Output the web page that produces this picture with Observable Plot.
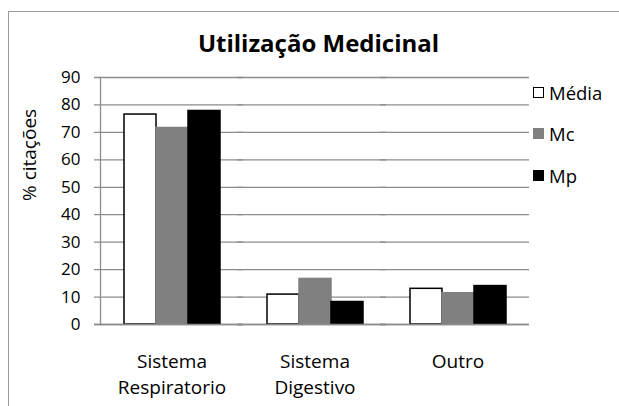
<!DOCTYPE html>
<html>
<head>
<meta charset="utf-8">
<script src="https://cdn.jsdelivr.net/npm/d3@7"></script>
<script src="https://cdn.jsdelivr.net/npm/@observablehq/plot@0.6"></script>
<style>
  html, body { margin: 0; padding: 0; background: #fff; }
  #wrap { position: relative; width: 619px; height: 406px; overflow: hidden; font-family: "Open Sans", sans-serif; }
  #border { position: absolute; left: 8px; top: 11px; right: -5px; bottom: -5px; border-top: 1.5px solid #9a9a9a; border-left: 1.5px solid #9a9a9a; }
  #title { position: absolute; left: 0; width: 637px; top: 26px; text-align: center; font-size: 24px; font-weight: bold; color: #000; z-index: 2; }
  #legend { position: absolute; left: 533px; top: 80px; font-size: 18.5px; color: #000; z-index: 2; }
  .item { position: absolute; left: 0; height: 24px; white-space: nowrap; display: flex; align-items: center; }
  .sw { display: inline-block; width: 11px; height: 11px; margin-right: 5px; box-sizing: border-box; }
  svg { position: absolute; left: 0; top: 0; }
</style>
</head>
<body>
<div id="wrap">
  <div id="border"></div>
  <div id="title">Utilização Medicinal</div>
  <div id="legend"></div>
</div>
<script>
const categories = ["Sistema\nRespiratorio", "Sistema\nDigestivo", "Outro"];
const series = ["Média", "Mc", "Mp"];
const media = [76.5, 10.9, 13.0];
const mc = [71.6, 16.6, 11.4];
const mp = [77.8, 8.2, 14.0];
const yTicks = [0, 10, 20, 30, 40, 50, 60, 70, 80, 90];
const yLabel = "% citações";
const fills = ["#ffffff", "#808080", "#000000"];
const strokes = ["#000000", "#808080", "#000000"];

const values = [media, mc, mp];
const data = [];
categories.forEach((c, i) => series.forEach((s, j) => data.push({cat: c, series: s, value: values[j][i]})));

const grid = "#8c8c8c";

const chart = Plot.plot({
  width: 619,
  height: 406,
  marginLeft: 99,
  marginRight: 90,
  marginTop: 77,
  marginBottom: 82,
  style: {background: "transparent", fontFamily: "Open Sans, sans-serif", color: "#000"},
  fx: {domain: categories, padding: 0, label: null},
  x: {domain: series, paddingInner: 0, paddingOuter: 0.703, axis: null},
  y: {domain: [0, 90], label: null},
  color: {domain: series, range: fills},
  marks: [
    Plot.ruleY(yTicks, {y: d => d, stroke: grid, strokeWidth: 1.3, strokeOpacity: 1, insetLeft: -6}),
    Plot.frame({anchor: "left", stroke: grid, strokeWidth: 1.3, strokeOpacity: 1, facetAnchor: "left"}),
    Plot.barY(data, {fx: "cat", x: "series", y: "value", fill: "series",
      stroke: d => strokes[series.indexOf(d.series)], strokeWidth: 1.5, inset: 0}),
    Plot.ruleY([0], {stroke: grid, strokeWidth: 1.5, strokeOpacity: 1, insetLeft: -6}),
    Plot.axisY({ticks: yTicks, tickSize: 0, tickPadding: 20, fontSize: 17, color: "#000",
      tickFormat: d => String(d), label: null}),
    Plot.text([yLabel], {text: d => d, frameAnchor: "left", rotate: -90, dx: -71, fontSize: 19, fill: "#000", facetAnchor: "left"}),
    Plot.axisFx({anchor: "bottom", tickSize: 0, tickPadding: 26, fontSize: 19, lineHeight: 1.33, label: null, color: "#000"})
  ]
});
document.getElementById("wrap").appendChild(chart);

const legend = document.getElementById("legend");
series.forEach((s, j) => {
  const it = document.createElement("div");
  it.className = "item";
  it.style.top = (j * 41.5) + "px";
  const sw = document.createElement("span");
  sw.className = "sw";
  sw.style.background = fills[j];
  sw.style.border = j === 0 ? "1.5px solid #000" : "none";
  it.appendChild(sw);
  it.appendChild(document.createTextNode(s));
  legend.appendChild(it);
});
</script>
</body>
</html>
